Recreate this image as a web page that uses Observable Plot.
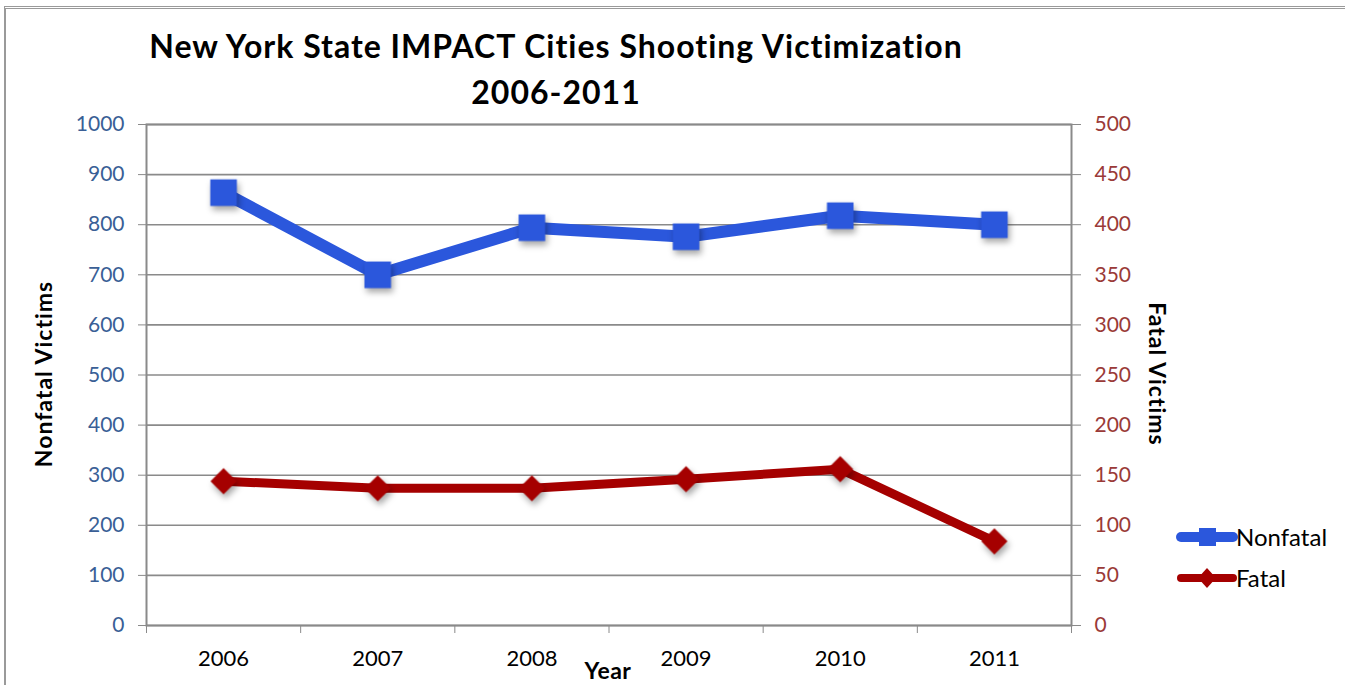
<!DOCTYPE html>
<html>
<head>
<meta charset="utf-8">
<script src="https://cdn.jsdelivr.net/npm/d3@7"></script>
<script src="https://cdn.jsdelivr.net/npm/@observablehq/plot@0.6"></script>
<style>
  html, body { margin: 0; padding: 0; background: #fff; }
  #wrap { position: relative; width: 1345px; height: 685px; overflow: hidden; font-family: Lato, "Open Sans", sans-serif; }
  #border { position: absolute; left: 4px; top: 6px; width: 1400px; height: 800px; border-left: 2px solid #9a9a9a; border-top: 3px double #9a9a9a; box-sizing: border-box; }
  .title { position: absolute; left: 556px; transform: translateX(-50%); font-weight: bold; font-size: 32px; letter-spacing: 1px; white-space: nowrap; color: #000; }
  .axlabel { position: absolute; font-weight: bold; font-size: 23px; letter-spacing: 1px; white-space: nowrap; color: #000; }
  #chart { position: absolute; left: 0; top: 0; }
  #legend { position: absolute; left: 1176px; top: 516px; font-size: 24px; }
  #legend .row { display: flex; align-items: center; height: 41px; }
  #legend svg { display: block; }
</style>
</head>
<body>
<div id="wrap">
  <div id="border"></div>
  <div id="chart"></div>
  <div class="title" style="top:26px">New York State IMPACT Cities Shooting Victimization</div>
  <div class="title" style="top:72px">2006-2011</div>
  <div class="axlabel" style="left:43px; top:374px; transform: translate(-50%,-50%) rotate(-90deg);">Nonfatal Victims</div>
  <div class="axlabel" style="left:1158px; top:374px; transform: translate(-50%,-50%) rotate(90deg);">Fatal Victims</div>
  <div class="axlabel" style="left:608px; top:670px; transform: translate(-50%,-50%); letter-spacing: 0.5px;">Year</div>
  <div id="legend"></div>
</div>
<script>
const years = [2006, 2007, 2008, 2009, 2010, 2011];
const nonfatal = [864, 700, 794, 776, 818, 800];
const fatal = [144, 137, 137, 146, 156, 84];
const leftTicks = [0, 100, 200, 300, 400, 500, 600, 700, 800, 900, 1000];
const rightTicks = [0, 50, 100, 150, 200, 250, 300, 350, 400, 450, 500];
const seriesNames = ["Nonfatal", "Fatal"];
const seriesColors = ["#2b57dc", "#a50000"];

const nfData = years.map((y, i) => ({year: y, value: nonfatal[i]}));
const fData = years.map((y, i) => ({year: y, value: fatal[i]}));
const boundaries = [years[0] - 0.5, ...years.map(y => y + 0.5)];
const ratio = leftTicks[leftTicks.length - 1] / rightTicks[rightTicks.length - 1];

const plot = Plot.plot({
  width: 1345,
  height: 685,
  marginLeft: 146,
  marginRight: 274,
  marginTop: 124,
  marginBottom: 60,
  style: {fontFamily: "Lato, 'Open Sans', sans-serif", fontSize: "21px", background: "transparent", overflow: "visible"},
  x: {type: "linear", domain: [years[0] - 0.5, years[years.length - 1] + 0.5]},
  y: {domain: [0, 1000]},
  marks: [
    Plot.ruleY(leftTicks, {y: d => d, stroke: "#8a8a8a", strokeWidth: 1.6}),
    Plot.frame({stroke: "#8a8a8a", strokeWidth: 2}),
    Plot.axisY(leftTicks, {anchor: "left", tickSize: 8, tickPadding: 14, stroke: "#8a8a8a", fill: "#3a5f96", fontSize: 21, label: null, tickFormat: d => String(d)}),
    Plot.axisY(leftTicks, {anchor: "right", tickSize: 9, tickPadding: 14, stroke: "#8a8a8a", fill: "#9a3a38", fontSize: 21, label: null, tickFormat: d => String(d / ratio)}),
    Plot.axisX(boundaries, {anchor: "bottom", tickSize: 8, stroke: "#8a8a8a", tickFormat: () => "", label: null}),
    Plot.axisX(years, {anchor: "bottom", tickSize: 0, tickPadding: 25, fill: "#000", fontSize: 22, label: null, tickFormat: d => String(d)}),
    Plot.line(nfData, {x: "year", y: "value", stroke: seriesColors[0], strokeWidth: 12, strokeLinejoin: "round"}),
    Plot.line(fData, {x: "year", y: d => d.value * ratio, stroke: seriesColors[1], strokeWidth: 9, strokeLinejoin: "round"}),
    Plot.dot(nfData, {x: "year", y: "value", symbol: "square", r: 15, fill: seriesColors[0], stroke: "none"}),
    Plot.dot(fData, {x: "year", y: d => d.value * ratio, symbol: "diamond2", r: 11.8, fill: seriesColors[1], stroke: "none"})
  ]
});
document.getElementById("chart").appendChild(plot);
plot.querySelectorAll('g[aria-label="dot"]').forEach(g => g.style.filter = "drop-shadow(2px 4px 3px rgba(0,0,0,0.35))");

// legend
const legend = d3.select("#legend");
seriesNames.forEach((name, i) => {
  const row = legend.append("div").attr("class", "row");
  const svg = row.append("svg").attr("width", 62).attr("height", 30);
  svg.append("line").attr("x1", 5).attr("x2", 57).attr("y1", 15).attr("y2", 15)
    .attr("stroke", seriesColors[i]).attr("stroke-width", i === 0 ? 10 : 8).attr("stroke-linecap", "round");
  if (i === 0) {
    svg.append("rect").attr("x", 23).attr("y", 6).attr("width", 17).attr("height", 18).attr("fill", seriesColors[i]);
  } else {
    svg.append("path").attr("d", "M31,5 L40,15 L31,25 L22,15 Z").attr("fill", seriesColors[i]);
  }
  row.append("span").text(name).style("margin-left", "-2px");
});
</script>
</body>
</html>
